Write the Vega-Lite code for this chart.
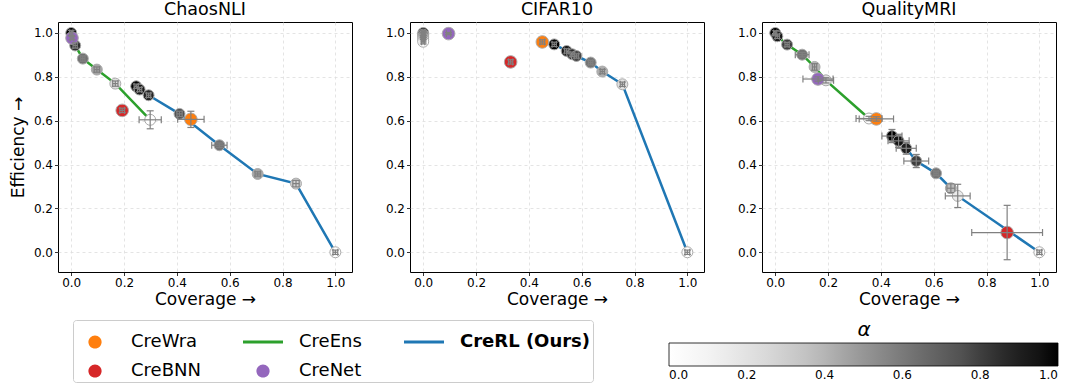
{
  "$schema": "https://vega.github.io/schema/vega-lite/v6.json",
  "padding": {"left": 8, "top": 0, "right": 1, "bottom": 1},
  "bounds": "flush",
  "spacing": 58,
  "datasets": {
    "pts": [
      {"p": "ChaosNLI", "m": "CreEns", "x": 0.0, "y": 1.0, "a": 1.0, "xl": -0.006, "xh": 0.006, "yl": 0.988, "yh": 1.012},
      {"p": "ChaosNLI", "m": "CreEns", "x": 0.015, "y": 0.943, "a": 0.85, "xl": 0.007, "xh": 0.023, "yl": 0.931, "yh": 0.955},
      {"p": "ChaosNLI", "m": "CreEns", "x": 0.044, "y": 0.883, "a": 0.63, "xl": 0.036, "xh": 0.052, "yl": 0.871, "yh": 0.895},
      {"p": "ChaosNLI", "m": "CreEns", "x": 0.097, "y": 0.833, "a": 0.45, "xl": 0.087, "xh": 0.107, "yl": 0.821, "yh": 0.845},
      {"p": "ChaosNLI", "m": "CreEns", "x": 0.167, "y": 0.769, "a": 0.22, "xl": 0.157, "xh": 0.177, "yl": 0.757, "yh": 0.781},
      {"p": "ChaosNLI", "m": "CreEns", "x": 0.299, "y": 0.604, "a": 0.0, "xl": 0.257, "xh": 0.341, "yl": 0.563, "yh": 0.645},
      {"p": "ChaosNLI", "m": "CreRL (Ours)", "x": 0.246, "y": 0.757, "a": 1.0, "xl": 0.238, "xh": 0.254, "yl": 0.747, "yh": 0.767},
      {"p": "ChaosNLI", "m": "CreRL (Ours)", "x": 0.259, "y": 0.742, "a": 0.92, "xl": 0.251, "xh": 0.267, "yl": 0.732, "yh": 0.752},
      {"p": "ChaosNLI", "m": "CreRL (Ours)", "x": 0.293, "y": 0.716, "a": 0.88, "xl": 0.285, "xh": 0.301, "yl": 0.706, "yh": 0.726},
      {"p": "ChaosNLI", "m": "CreRL (Ours)", "x": 0.41, "y": 0.631, "a": 0.75, "xl": 0.4, "xh": 0.42, "yl": 0.619, "yh": 0.643},
      {"p": "ChaosNLI", "m": "CreRL (Ours)", "x": 0.561, "y": 0.488, "a": 0.62, "xl": 0.532, "xh": 0.59, "yl": 0.478, "yh": 0.498},
      {"p": "ChaosNLI", "m": "CreRL (Ours)", "x": 0.706, "y": 0.357, "a": 0.45, "xl": 0.696, "xh": 0.716, "yl": 0.347, "yh": 0.367},
      {"p": "ChaosNLI", "m": "CreRL (Ours)", "x": 0.851, "y": 0.313, "a": 0.28, "xl": 0.839, "xh": 0.863, "yl": 0.298, "yh": 0.328},
      {"p": "ChaosNLI", "m": "CreRL (Ours)", "x": 1.0, "y": 0.0, "a": 0.0, "xl": 0.991, "xh": 1.009, "yl": -0.01, "yh": 0.01},
      {"p": "ChaosNLI", "m": "CreWra", "x": 0.453, "y": 0.606, "a": null, "xl": 0.403, "xh": 0.503, "yl": 0.569, "yh": 0.643},
      {"p": "ChaosNLI", "m": "CreBNN", "x": 0.193, "y": 0.647, "a": null, "xl": 0.184, "xh": 0.202, "yl": 0.637, "yh": 0.657},
      {"p": "ChaosNLI", "m": "CreNet", "x": 0.003, "y": 0.977, "a": null, "xl": -0.004, "xh": 0.01, "yl": 0.969, "yh": 0.985},

      {"p": "CIFAR10", "m": "CreEns", "x": 0.0, "y": 1.0, "a": 1.0, "xl": -0.006, "xh": 0.006, "yl": 0.99, "yh": 1.01},
      {"p": "CIFAR10", "m": "CreEns", "x": 0.0, "y": 0.993, "a": 0.8, "xl": -0.006, "xh": 0.006, "yl": 0.983, "yh": 1.003},
      {"p": "CIFAR10", "m": "CreEns", "x": 0.0, "y": 0.986, "a": 0.6, "xl": -0.006, "xh": 0.006, "yl": 0.976, "yh": 0.996},
      {"p": "CIFAR10", "m": "CreEns", "x": 0.0, "y": 0.978, "a": 0.4, "xl": -0.006, "xh": 0.006, "yl": 0.968, "yh": 0.988},
      {"p": "CIFAR10", "m": "CreEns", "x": 0.0, "y": 0.969, "a": 0.2, "xl": -0.006, "xh": 0.006, "yl": 0.959, "yh": 0.979},
      {"p": "CIFAR10", "m": "CreEns", "x": 0.0, "y": 0.96, "a": 0.0, "xl": -0.006, "xh": 0.006, "yl": 0.95, "yh": 0.97},
      {"p": "CIFAR10", "m": "CreRL (Ours)", "x": 0.496, "y": 0.948, "a": 1.0, "xl": 0.488, "xh": 0.504, "yl": 0.938, "yh": 0.958},
      {"p": "CIFAR10", "m": "CreRL (Ours)", "x": 0.543, "y": 0.918, "a": 0.92, "xl": 0.535, "xh": 0.551, "yl": 0.908, "yh": 0.928},
      {"p": "CIFAR10", "m": "CreRL (Ours)", "x": 0.564, "y": 0.903, "a": 0.85, "xl": 0.556, "xh": 0.572, "yl": 0.893, "yh": 0.913},
      {"p": "CIFAR10", "m": "CreRL (Ours)", "x": 0.58, "y": 0.895, "a": 0.78, "xl": 0.572, "xh": 0.588, "yl": 0.885, "yh": 0.905},
      {"p": "CIFAR10", "m": "CreRL (Ours)", "x": 0.634, "y": 0.865, "a": 0.62, "xl": 0.626, "xh": 0.642, "yl": 0.855, "yh": 0.875},
      {"p": "CIFAR10", "m": "CreRL (Ours)", "x": 0.678, "y": 0.824, "a": 0.42, "xl": 0.67, "xh": 0.686, "yl": 0.814, "yh": 0.834},
      {"p": "CIFAR10", "m": "CreRL (Ours)", "x": 0.754, "y": 0.766, "a": 0.2, "xl": 0.746, "xh": 0.762, "yl": 0.756, "yh": 0.776},
      {"p": "CIFAR10", "m": "CreRL (Ours)", "x": 1.0, "y": 0.0, "a": 0.0, "xl": 0.991, "xh": 1.009, "yl": -0.01, "yh": 0.01},
      {"p": "CIFAR10", "m": "CreWra", "x": 0.451, "y": 0.959, "a": null, "xl": 0.442, "xh": 0.46, "yl": 0.949, "yh": 0.969},
      {"p": "CIFAR10", "m": "CreBNN", "x": 0.331, "y": 0.868, "a": null, "xl": 0.323, "xh": 0.339, "yl": 0.858, "yh": 0.878},
      {"p": "CIFAR10", "m": "CreNet", "x": 0.096, "y": 0.997, "a": null, "xl": 0.088, "xh": 0.104, "yl": 0.992, "yh": 1.002},

      {"p": "QualityMRI", "m": "CreEns", "x": 0.0, "y": 1.0, "a": 1.0, "xl": -0.006, "xh": 0.006, "yl": 0.99, "yh": 1.01},
      {"p": "QualityMRI", "m": "CreEns", "x": 0.008, "y": 0.985, "a": 0.92, "xl": 0.0, "xh": 0.016, "yl": 0.975, "yh": 0.995},
      {"p": "QualityMRI", "m": "CreEns", "x": 0.045, "y": 0.947, "a": 0.8, "xl": 0.037, "xh": 0.053, "yl": 0.937, "yh": 0.957},
      {"p": "QualityMRI", "m": "CreEns", "x": 0.102, "y": 0.901, "a": 0.62, "xl": 0.076, "xh": 0.128, "yl": 0.891, "yh": 0.911},
      {"p": "QualityMRI", "m": "CreEns", "x": 0.149, "y": 0.845, "a": 0.4, "xl": 0.141, "xh": 0.157, "yl": 0.83, "yh": 0.86},
      {"p": "QualityMRI", "m": "CreEns", "x": 0.192, "y": 0.784, "a": 0.2, "xl": 0.163, "xh": 0.221, "yl": 0.772, "yh": 0.796},
      {"p": "QualityMRI", "m": "CreEns", "x": 0.355, "y": 0.61, "a": 0.0, "xl": 0.306, "xh": 0.404, "yl": 0.6, "yh": 0.62},
      {"p": "QualityMRI", "m": "CreRL (Ours)", "x": 0.442, "y": 0.53, "a": 1.0, "xl": 0.404, "xh": 0.48, "yl": 0.5, "yh": 0.56},
      {"p": "QualityMRI", "m": "CreRL (Ours)", "x": 0.467, "y": 0.508, "a": 0.95, "xl": 0.427, "xh": 0.507, "yl": 0.478, "yh": 0.538},
      {"p": "QualityMRI", "m": "CreRL (Ours)", "x": 0.496, "y": 0.474, "a": 0.9, "xl": 0.458, "xh": 0.534, "yl": 0.447, "yh": 0.501},
      {"p": "QualityMRI", "m": "CreRL (Ours)", "x": 0.534, "y": 0.416, "a": 0.8, "xl": 0.487, "xh": 0.581, "yl": 0.386, "yh": 0.446},
      {"p": "QualityMRI", "m": "CreRL (Ours)", "x": 0.609, "y": 0.36, "a": 0.62, "xl": 0.601, "xh": 0.617, "yl": 0.35, "yh": 0.37},
      {"p": "QualityMRI", "m": "CreRL (Ours)", "x": 0.665, "y": 0.292, "a": 0.38, "xl": 0.65, "xh": 0.68, "yl": 0.272, "yh": 0.312},
      {"p": "QualityMRI", "m": "CreRL (Ours)", "x": 0.691, "y": 0.257, "a": 0.15, "xl": 0.644, "xh": 0.738, "yl": 0.204, "yh": 0.31},
      {"p": "QualityMRI", "m": "CreRL (Ours)", "x": 1.0, "y": 0.0, "a": 0.0, "xl": 0.991, "xh": 1.009, "yl": -0.01, "yh": 0.01},
      {"p": "QualityMRI", "m": "CreWra", "x": 0.383, "y": 0.608, "a": null, "xl": 0.318, "xh": 0.448, "yl": 0.598, "yh": 0.618},
      {"p": "QualityMRI", "m": "CreBNN", "x": 0.878, "y": 0.09, "a": null, "xl": 0.744, "xh": 1.012, "yl": -0.034, "yh": 0.214},
      {"p": "QualityMRI", "m": "CreNet", "x": 0.162, "y": 0.79, "a": null, "xl": 0.105, "xh": 0.219, "yl": 0.78, "yh": 0.8}
    ]
  },
  "hconcat": [
    {
      "width": 294, "height": 250, "title": "ChaosNLI",
      "data": {"name": "pts"},
      "transform": [{"filter": "datum.p == 'ChaosNLI'"}],
      "layer": [
        {"transform": [{"filter": "datum.a != null"}], "mark": {"type": "line", "strokeWidth": 2.5},
         "encoding": {
           "x": {"field": "x", "type": "quantitative", "scale": {"domain": [-0.05, 1.063], "nice": false, "zero": false}, "title": "Coverage →"},
           "y": {"field": "y", "type": "quantitative", "scale": {"domain": [-0.09, 1.05], "nice": false, "zero": false}, "title": "Efficiency →"},
           "stroke": {"field": "m", "type": "nominal", "scale": {"domain": ["CreEns", "CreRL (Ours)"], "range": ["#2ca02c", "#1f77b4"]}, "legend": null},
           "order": {"field": "x", "type": "quantitative"}}},
        {"transform": [{"filter": "datum.a != null"}], "mark": {"type": "point", "filled": true, "size": 120, "stroke": "#aaaaaa", "strokeWidth": 1, "opacity": 1},
         "encoding": {
           "x": {"field": "x", "type": "quantitative", "title": "Coverage →"},
           "y": {"field": "y", "type": "quantitative", "title": "Efficiency →"},
           "fill": {"field": "a", "type": "quantitative", "scale": {"domain": [0, 0.125, 0.25, 0.375, 0.5, 0.625, 0.75, 0.875, 1], "range": ["#ffffff", "#f0f0f0", "#d9d9d9", "#bdbdbd", "#969696", "#737373", "#525252", "#252525", "#000000"]},
             "legend": {"title": "α", "orient": "none", "legendX": 611, "legendY": 298, "direction": "horizontal", "gradientLength": 389, "gradientThickness": 23, "titleAnchor": "middle", "titleFontSize": 20, "titleFontStyle": "italic", "titleFontWeight": "normal", "titleColor": "#000", "titlePadding": 3, "values": [0, 0.2, 0.4, 0.6, 0.8, 1], "format": ".1f", "labelFontSize": 12, "labelColor": "#000", "labelOffset": 4, "gradientStrokeColor": "#000", "gradientStrokeWidth": 0.8, "padding": 0}}}},
        {"transform": [{"filter": "datum.a == null"}], "mark": {"type": "point", "filled": true, "size": 1435, "stroke": "#aaaaaa", "strokeWidth": 1, "opacity": 1},
         "encoding": {
           "x": {"field": "x", "type": "quantitative", "title": "Coverage →"},
           "y": {"field": "y", "type": "quantitative", "title": "Efficiency →"},
           "color": {"field": "m", "type": "nominal", "scale": {"domain": ["CreWra", "CreBNN", "CreEns", "CreNet", "CreRL (Ours)"], "range": ["#ff7f0e", "#d62728", "#2ca02c", "#9467bd", "#1f77b4"]},
             "legend": {"title": null, "orient": "none", "legendX": 15, "legendY": 298, "columns": 3, "symbolSize": 1600, "labelFontSize": 18, "labelColor": "#000", "labelFontWeight": {"expr": "datum.value == 'CreRL (Ours)' ? 'bold' : 'normal'"}, "strokeColor": "#cccccc", "fillColor": "#ffffff", "cornerRadius": 3, "padding": 2, "columnPadding": 42, "rowPadding": 0, "labelOffset": 16, "symbolStrokeWidth": 0}},
           "shape": {"field": "m", "type": "nominal", "scale": {"domain": ["CreWra", "CreBNN", "CreEns", "CreNet", "CreRL (Ours)"], "range": ["M0.33,0A0.33,0.33 0 1,1 -0.33,0A0.33,0.33 0 1,1 0.33,0Z", "M0.33,0A0.33,0.33 0 1,1 -0.33,0A0.33,0.33 0 1,1 0.33,0Z", "M-1,-0.075H1V0.075H-1Z", "M0.33,0A0.33,0.33 0 1,1 -0.33,0A0.33,0.33 0 1,1 0.33,0Z", "M-1,-0.075H1V0.075H-1Z"]},
             "legend": {"title": null, "orient": "none", "legendX": 15, "legendY": 298, "columns": 3, "symbolSize": 1600, "labelFontSize": 18, "labelColor": "#000", "labelFontWeight": {"expr": "datum.value == 'CreRL (Ours)' ? 'bold' : 'normal'"}, "strokeColor": "#cccccc", "fillColor": "#ffffff", "cornerRadius": 3, "padding": 2, "columnPadding": 42, "rowPadding": 0, "labelOffset": 16, "symbolStrokeWidth": 0}}}},
        {"mark": {"type": "rule", "color": "#808080", "strokeWidth": 1.2},
         "encoding": {"x": {"field": "xl", "type": "quantitative", "title": "Coverage →"}, "x2": {"field": "xh"}, "y": {"field": "y", "type": "quantitative", "title": "Efficiency →"}}},
        {"mark": {"type": "tick", "orient": "vertical", "color": "#808080", "size": 7, "thickness": 1.2, "opacity": 1},
         "encoding": {"x": {"field": "xl", "type": "quantitative", "title": "Coverage →"}, "y": {"field": "y", "type": "quantitative", "title": "Efficiency →"}}},
        {"mark": {"type": "tick", "orient": "vertical", "color": "#808080", "size": 7, "thickness": 1.2, "opacity": 1},
         "encoding": {"x": {"field": "xh", "type": "quantitative", "title": "Coverage →"}, "y": {"field": "y", "type": "quantitative", "title": "Efficiency →"}}},
        {"mark": {"type": "rule", "color": "#808080", "strokeWidth": 1.2},
         "encoding": {"x": {"field": "x", "type": "quantitative", "title": "Coverage →"}, "y": {"field": "yl", "type": "quantitative", "title": "Efficiency →"}, "y2": {"field": "yh"}}},
        {"mark": {"type": "tick", "orient": "horizontal", "color": "#808080", "size": 7, "thickness": 1.2, "opacity": 1},
         "encoding": {"x": {"field": "x", "type": "quantitative", "title": "Coverage →"}, "y": {"field": "yl", "type": "quantitative", "title": "Efficiency →"}}},
        {"mark": {"type": "tick", "orient": "horizontal", "color": "#808080", "size": 7, "thickness": 1.2, "opacity": 1},
         "encoding": {"x": {"field": "x", "type": "quantitative", "title": "Coverage →"}, "y": {"field": "yh", "type": "quantitative", "title": "Efficiency →"}}}
      ]
    },
    {
      "width": 294, "height": 250, "title": "CIFAR10",
      "data": {"name": "pts"},
      "transform": [{"filter": "datum.p == 'CIFAR10'"}],
      "layer": [
        {"transform": [{"filter": "datum.a != null"}], "mark": {"type": "line", "strokeWidth": 2.5},
         "encoding": {
           "x": {"field": "x", "type": "quantitative", "scale": {"domain": [-0.05, 1.063], "nice": false, "zero": false}, "title": "Coverage →"},
           "y": {"field": "y", "type": "quantitative", "scale": {"domain": [-0.09, 1.05], "nice": false, "zero": false}, "title": null},
           "stroke": {"field": "m", "type": "nominal", "scale": {"domain": ["CreEns", "CreRL (Ours)"], "range": ["#2ca02c", "#1f77b4"]}, "legend": null},
           "order": {"field": "x", "type": "quantitative"}}},
        {"transform": [{"filter": "datum.a != null"}], "mark": {"type": "point", "filled": true, "size": 120, "stroke": "#aaaaaa", "strokeWidth": 1, "opacity": 1},
         "encoding": {
           "x": {"field": "x", "type": "quantitative", "title": "Coverage →"},
           "y": {"field": "y", "type": "quantitative", "title": null},
           "fill": {"field": "a", "type": "quantitative", "scale": {"domain": [0, 0.125, 0.25, 0.375, 0.5, 0.625, 0.75, 0.875, 1], "range": ["#ffffff", "#f0f0f0", "#d9d9d9", "#bdbdbd", "#969696", "#737373", "#525252", "#252525", "#000000"]}}}},
        {"transform": [{"filter": "datum.a == null"}], "mark": {"type": "point", "filled": true, "size": 1435, "stroke": "#aaaaaa", "strokeWidth": 1, "opacity": 1},
         "encoding": {
           "x": {"field": "x", "type": "quantitative", "title": "Coverage →"},
           "y": {"field": "y", "type": "quantitative", "title": null},
           "color": {"field": "m", "type": "nominal", "scale": {"domain": ["CreWra", "CreBNN", "CreEns", "CreNet", "CreRL (Ours)"], "range": ["#ff7f0e", "#d62728", "#2ca02c", "#9467bd", "#1f77b4"]}},
           "shape": {"field": "m", "type": "nominal", "scale": {"domain": ["CreWra", "CreBNN", "CreEns", "CreNet", "CreRL (Ours)"], "range": ["M0.33,0A0.33,0.33 0 1,1 -0.33,0A0.33,0.33 0 1,1 0.33,0Z", "M0.33,0A0.33,0.33 0 1,1 -0.33,0A0.33,0.33 0 1,1 0.33,0Z", "M-1,-0.075H1V0.075H-1Z", "M0.33,0A0.33,0.33 0 1,1 -0.33,0A0.33,0.33 0 1,1 0.33,0Z", "M-1,-0.075H1V0.075H-1Z"]}}}},
        {"mark": {"type": "rule", "color": "#808080", "strokeWidth": 1.2},
         "encoding": {"x": {"field": "xl", "type": "quantitative", "title": "Coverage →"}, "x2": {"field": "xh"}, "y": {"field": "y", "type": "quantitative", "title": null}}},
        {"mark": {"type": "tick", "orient": "vertical", "color": "#808080", "size": 7, "thickness": 1.2, "opacity": 1},
         "encoding": {"x": {"field": "xl", "type": "quantitative", "title": "Coverage →"}, "y": {"field": "y", "type": "quantitative", "title": null}}},
        {"mark": {"type": "tick", "orient": "vertical", "color": "#808080", "size": 7, "thickness": 1.2, "opacity": 1},
         "encoding": {"x": {"field": "xh", "type": "quantitative", "title": "Coverage →"}, "y": {"field": "y", "type": "quantitative", "title": null}}},
        {"mark": {"type": "rule", "color": "#808080", "strokeWidth": 1.2},
         "encoding": {"x": {"field": "x", "type": "quantitative", "title": "Coverage →"}, "y": {"field": "yl", "type": "quantitative", "title": null}, "y2": {"field": "yh"}}},
        {"mark": {"type": "tick", "orient": "horizontal", "color": "#808080", "size": 7, "thickness": 1.2, "opacity": 1},
         "encoding": {"x": {"field": "x", "type": "quantitative", "title": "Coverage →"}, "y": {"field": "yl", "type": "quantitative", "title": null}}},
        {"mark": {"type": "tick", "orient": "horizontal", "color": "#808080", "size": 7, "thickness": 1.2, "opacity": 1},
         "encoding": {"x": {"field": "x", "type": "quantitative", "title": "Coverage →"}, "y": {"field": "yh", "type": "quantitative", "title": null}}}
      ]
    },
    {
      "width": 294, "height": 250, "title": "QualityMRI",
      "data": {"name": "pts"},
      "transform": [{"filter": "datum.p == 'QualityMRI'"}],
      "layer": [
        {"transform": [{"filter": "datum.a != null"}], "mark": {"type": "line", "strokeWidth": 2.5},
         "encoding": {
           "x": {"field": "x", "type": "quantitative", "scale": {"domain": [-0.05, 1.063], "nice": false, "zero": false}, "title": "Coverage →"},
           "y": {"field": "y", "type": "quantitative", "scale": {"domain": [-0.09, 1.05], "nice": false, "zero": false}, "title": null},
           "stroke": {"field": "m", "type": "nominal", "scale": {"domain": ["CreEns", "CreRL (Ours)"], "range": ["#2ca02c", "#1f77b4"]}, "legend": null},
           "order": {"field": "x", "type": "quantitative"}}},
        {"transform": [{"filter": "datum.a != null"}], "mark": {"type": "point", "filled": true, "size": 120, "stroke": "#aaaaaa", "strokeWidth": 1, "opacity": 1},
         "encoding": {
           "x": {"field": "x", "type": "quantitative", "title": "Coverage →"},
           "y": {"field": "y", "type": "quantitative", "title": null},
           "fill": {"field": "a", "type": "quantitative", "scale": {"domain": [0, 0.125, 0.25, 0.375, 0.5, 0.625, 0.75, 0.875, 1], "range": ["#ffffff", "#f0f0f0", "#d9d9d9", "#bdbdbd", "#969696", "#737373", "#525252", "#252525", "#000000"]}}}},
        {"transform": [{"filter": "datum.a == null"}], "mark": {"type": "point", "filled": true, "size": 1435, "stroke": "#aaaaaa", "strokeWidth": 1, "opacity": 1},
         "encoding": {
           "x": {"field": "x", "type": "quantitative", "title": "Coverage →"},
           "y": {"field": "y", "type": "quantitative", "title": null},
           "color": {"field": "m", "type": "nominal", "scale": {"domain": ["CreWra", "CreBNN", "CreEns", "CreNet", "CreRL (Ours)"], "range": ["#ff7f0e", "#d62728", "#2ca02c", "#9467bd", "#1f77b4"]}},
           "shape": {"field": "m", "type": "nominal", "scale": {"domain": ["CreWra", "CreBNN", "CreEns", "CreNet", "CreRL (Ours)"], "range": ["M0.33,0A0.33,0.33 0 1,1 -0.33,0A0.33,0.33 0 1,1 0.33,0Z", "M0.33,0A0.33,0.33 0 1,1 -0.33,0A0.33,0.33 0 1,1 0.33,0Z", "M-1,-0.075H1V0.075H-1Z", "M0.33,0A0.33,0.33 0 1,1 -0.33,0A0.33,0.33 0 1,1 0.33,0Z", "M-1,-0.075H1V0.075H-1Z"]}}}},
        {"mark": {"type": "rule", "color": "#808080", "strokeWidth": 1.2},
         "encoding": {"x": {"field": "xl", "type": "quantitative", "title": "Coverage →"}, "x2": {"field": "xh"}, "y": {"field": "y", "type": "quantitative", "title": null}}},
        {"mark": {"type": "tick", "orient": "vertical", "color": "#808080", "size": 7, "thickness": 1.2, "opacity": 1},
         "encoding": {"x": {"field": "xl", "type": "quantitative", "title": "Coverage →"}, "y": {"field": "y", "type": "quantitative", "title": null}}},
        {"mark": {"type": "tick", "orient": "vertical", "color": "#808080", "size": 7, "thickness": 1.2, "opacity": 1},
         "encoding": {"x": {"field": "xh", "type": "quantitative", "title": "Coverage →"}, "y": {"field": "y", "type": "quantitative", "title": null}}},
        {"mark": {"type": "rule", "color": "#808080", "strokeWidth": 1.2},
         "encoding": {"x": {"field": "x", "type": "quantitative", "title": "Coverage →"}, "y": {"field": "yl", "type": "quantitative", "title": null}, "y2": {"field": "yh"}}},
        {"mark": {"type": "tick", "orient": "horizontal", "color": "#808080", "size": 7, "thickness": 1.2, "opacity": 1},
         "encoding": {"x": {"field": "x", "type": "quantitative", "title": "Coverage →"}, "y": {"field": "yl", "type": "quantitative", "title": null}}},
        {"mark": {"type": "tick", "orient": "horizontal", "color": "#808080", "size": 7, "thickness": 1.2, "opacity": 1},
         "encoding": {"x": {"field": "x", "type": "quantitative", "title": "Coverage →"}, "y": {"field": "yh", "type": "quantitative", "title": null}}}
      ]
    }
  ],
  "resolve": {
    "scale": {"color": "shared", "fill": "shared", "shape": "shared", "stroke": "shared"},
    "legend": {"color": "shared", "fill": "shared", "shape": "shared"}
  },
  "config": {
    "font": "DejaVu Sans",
    "view": {"stroke": "#000000", "strokeWidth": 1},
    "axis": {"domain": false, "tickColor": "#000", "tickSize": 3.5, "tickWidth": 0.8, "labelFontSize": 12, "labelColor": "#000", "labelPadding": 2, "titleFontSize": 17, "titleFontWeight": "normal", "titleColor": "#000", "gridColor": "#dddddd", "gridDash": [3, 3], "gridWidth": 0.8, "tickCount": 6},
    "axisX": {"titlePadding": 3},
    "axisY": {"titlePadding": 6},
    "title": {"fontSize": 17.5, "fontWeight": "normal", "offset": 4, "color": "#000"}
  }
}
